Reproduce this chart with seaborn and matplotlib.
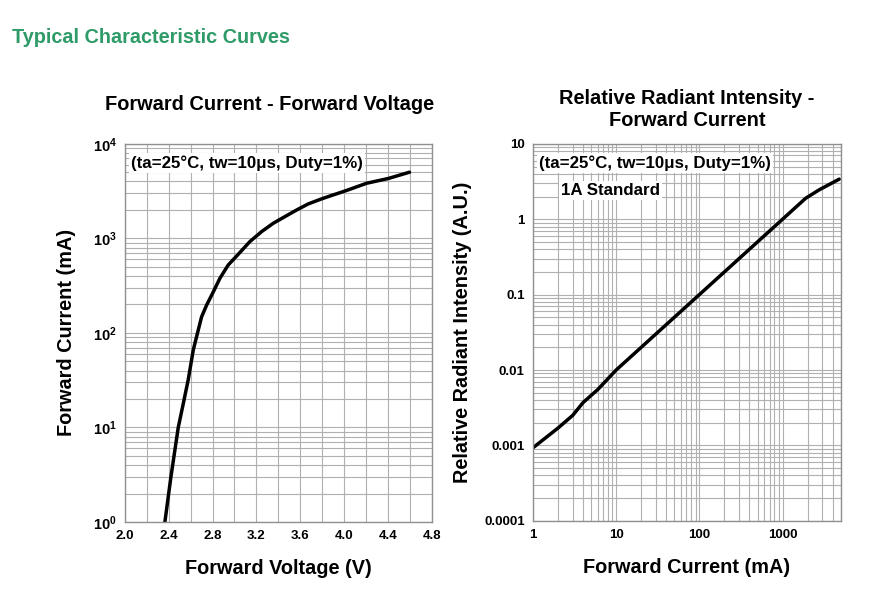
import numpy as np
import pandas as pd
import seaborn as sns
import matplotlib.pyplot as plt
from matplotlib.ticker import FixedLocator, LogLocator, NullFormatter

# dane
vf = [2.365, 2.42, 2.487, 2.533, 2.578, 2.624, 2.654, 2.70, 2.746, 2.80, 2.867, 2.943,
      3.035, 3.141, 3.248, 3.354, 3.461, 3.567, 3.674, 3.796, 3.902, 4.009, 4.207, 4.404, 4.597]
i_f = [1.0, 3.0, 10, 17.9, 32, 66, 91, 148, 197, 262, 378, 523,
       680, 925, 1180, 1445, 1700, 1995, 2316, 2620, 2884, 3170, 3830, 4300, 5010]

i_rel = [1, 2.0, 3.0, 4.0, 6.0, 10, 100, 1000, 1400, 1900, 2750, 4800]
ri = [0.00093, 0.0017, 0.0025, 0.0037, 0.0055, 0.01, 0.1, 1.0, 1.4, 1.9, 2.45, 3.4]

vf_ticks = [2.0, 2.4, 2.8, 3.2, 3.6, 4.0, 4.4, 4.8]
ri_ticks = [10, 1, 0.1, 0.01, 0.001, 0.0001]
ri_labels = ["10", "1", "0.1", "0.01", "0.001", "0.0001"]
ir_ticks = [1, 10, 100, 1000]

df1 = pd.DataFrame({"vf": vf, "if": i_f})
df2 = pd.DataFrame({"i": i_rel, "ri": ri})

sns.set_style("white")
plt.rcParams["font.family"] = ["Liberation Sans", "DejaVu Sans"]
plt.rcParams["font.weight"] = "bold"
plt.rcParams["text.color"] = "black"
plt.rcParams["axes.labelcolor"] = "black"
plt.rcParams["xtick.color"] = "black"
plt.rcParams["ytick.color"] = "black"
plt.rcParams["mathtext.fontset"] = "custom"
plt.rcParams["mathtext.rm"] = "Liberation Sans"
plt.rcParams["mathtext.it"] = "Liberation Sans"

fig = plt.figure(figsize=(8.92, 6.12), dpi=100)
ax1 = fig.add_axes([0.140, 0.147, 0.344, 0.618])
ax2 = fig.add_axes([0.5975, 0.149, 0.345, 0.616])

grid_kw = dict(color="#b0b0b0", linewidth=0.8)
box = dict(facecolor="white", edgecolor="none", pad=1.5)

# wykres 1
sns.lineplot(x="vf", y="if", data=df1, ax=ax1, color="black", linewidth=2.5)
ax1.set_yscale("log")
ax1.set_xlim(2.0, 4.8)
ax1.set_ylim(1, 1e4)
ax1.set_xticks(vf_ticks)
ax1.set_xticklabels([f"{v:.1f}" for v in vf_ticks])
ax1.xaxis.set_minor_locator(FixedLocator(np.arange(2.0, 4.81, 0.2)))
ax1.set_yticks([1, 10, 100, 1000, 10000])
ax1.set_yticklabels([r"$\mathrm{10^{%d}}$" % k for k in range(5)])
ax1.yaxis.set_minor_locator(LogLocator(base=10, subs=np.arange(2, 10)))
ax1.yaxis.set_minor_formatter(NullFormatter())
ax1.grid(True, which="both", **grid_kw)
ax1.set_xlabel("Forward Voltage (V)", fontsize=14.3, fontweight="bold", labelpad=12)
ax1.set_ylabel("Forward Current (mA)", fontsize=14.3, fontweight="bold", labelpad=12)
ax1.text(0.02, 0.97, "(ta=25°C, tw=10μs, Duty=1%)", transform=ax1.transAxes,
         fontsize=12.2, fontweight="bold", va="top", bbox=box, zorder=5)

# wykres 2
sns.lineplot(x="i", y="ri", data=df2, ax=ax2, color="black", linewidth=2.5)
ax2.set_xscale("log")
ax2.set_yscale("log")
ax2.set_xlim(1, 5000)
ax2.set_ylim(0.0001, 10)
ax2.set_xticks(ir_ticks)
ax2.set_xticklabels([str(t) for t in ir_ticks])
ax2.set_yticks(ri_ticks)
ax2.set_yticklabels(ri_labels)
for a in (ax2.xaxis, ax2.yaxis):
    a.set_minor_locator(LogLocator(base=10, subs=np.arange(2, 10)))
    a.set_minor_formatter(NullFormatter())
ax2.grid(True, which="both", **grid_kw)
ax2.set_xlabel("Forward Current (mA)", fontsize=14.3, fontweight="bold", labelpad=12)
ax2.set_ylabel("Relative Radiant Intensity (A.U.)", fontsize=14.3, fontweight="bold", labelpad=9)
ax2.text(0.02, 0.97, "(ta=25°C, tw=10μs, Duty=1%)", transform=ax2.transAxes,
         fontsize=12.2, fontweight="bold", va="top", bbox=box, zorder=5)
ax2.text(0.092, 0.895, "1A Standard", transform=ax2.transAxes,
         fontsize=12.2, fontweight="bold", va="top", bbox=box, zorder=5)

for ax in (ax1, ax2):
    ax.set_axisbelow(True)
    ax.tick_params(which="both", length=0, labelsize=9.5, pad=6)
    for lab in ax.get_xticklabels():
        lab.set_fontweight("bold")
    for s in ax.spines.values():
        s.set_color("#909090")
        s.set_linewidth(1.0)
for lab in ax2.get_yticklabels():
    lab.set_fontweight("bold")
ax1.tick_params(axis="y", labelsize=10.5)

fig.text(0.3025, 0.821, "Forward Current - Forward Voltage", ha="center",
         fontsize=14.4, fontweight="bold")
fig.text(0.770, 0.794, "Relative Radiant Intensity -\nForward Current", ha="center",
         fontsize=14.4, fontweight="bold", linespacing=1.2)
fig.text(0.013, 0.93, "Typical Characteristic Curves", color="#2e9b68",
         fontsize=14.3, fontweight="bold")

plt.savefig("out.png", dpi=100)
